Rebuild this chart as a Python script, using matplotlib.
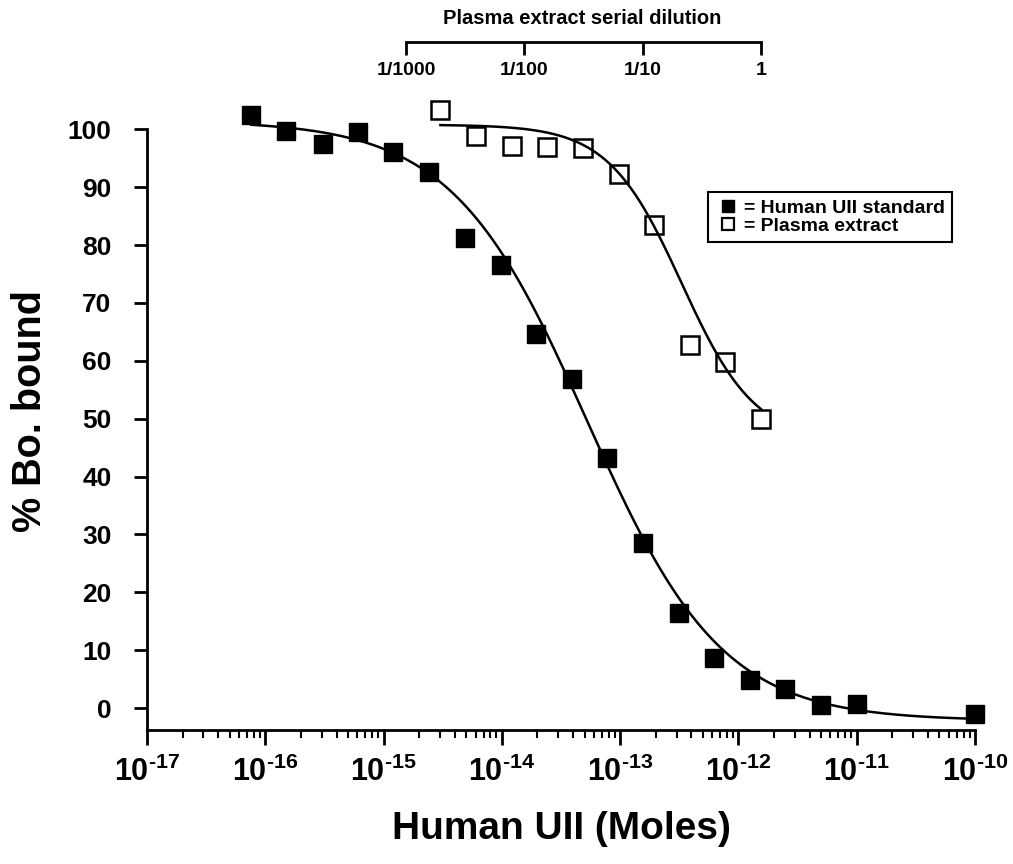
import numpy as np
import matplotlib
matplotlib.use("Agg")
import matplotlib.pyplot as plt
from matplotlib.lines import Line2D
from matplotlib.ticker import FixedLocator, FuncFormatter, NullLocator, LogLocator

plt.rcParams['font.family'] = ['Liberation Sans', 'DejaVu Sans']
plt.rcParams['font.weight'] = 'bold'
plt.rcParams['mathtext.fontset'] = 'custom'
plt.rcParams['mathtext.rm'] = 'Liberation Sans:bold'
plt.rcParams['mathtext.bf'] = 'Liberation Sans:bold'
plt.rcParams['mathtext.it'] = 'Liberation Sans:bold'

# ---------------- data ----------------
std_conc = [7.6e-17, 1.5e-16, 3.1e-16, 6.1e-16, 1.2e-15, 2.4e-15, 4.9e-15,
            9.8e-15, 1.95e-14, 3.9e-14, 7.8e-14, 1.56e-13, 3.13e-13, 6.25e-13,
            1.25e-12, 2.5e-12, 5e-12, 1e-11, 1e-10]
std_bound = [102.4, 99.7, 97.4, 99.5, 96.1, 92.7, 81.2, 76.5, 64.6, 56.8,
             43.2, 28.5, 16.4, 8.6, 4.8, 3.2, 0.6, 0.7, -1.1]

plasma_dilution = [0.00195, 0.0039, 0.0078, 0.0156, 0.03125, 0.0625,
                   0.125, 0.25, 0.5, 1.0]
plasma_bound = [103.3, 98.8, 97.2, 96.9, 96.7, 92.2, 83.5, 62.7, 59.8, 50.0]

# dilution 1 corresponds to this molar amount on the bottom axis
dilution_scale = 1.55e-12

# four-parameter logistic fits (top, bottom, log10 EC50, hill)
std_fit = (101.5, -2.2, -13.28, 0.76)
plasma_fit = (100.8, 46.0, -12.48, 1.4)

dilution_ticks = [1e-3, 1e-2, 1e-1, 1.0]
dilution_labels = ['1/1000', '1/100', '1/10', '1']
y_ticks = list(range(0, 101, 10))


def logistic(x, p):
    top, bottom, logec, h = p
    return bottom + (top - bottom) / (1.0 + 10 ** (h * (np.log10(x) - logec)))


W, H = 1013, 864
fig = plt.figure(figsize=(W / 100, H / 100), dpi=100)
fig.patch.set_facecolor('white')

ax = fig.add_axes([147 / W, 1 - 730 / H, 828 / W, 600.7 / H])
ax.set_xscale('log')
ax.set_xlim(1e-17, 1e-10)
ax.set_ylim(-3.8, 100)

for s in ['top', 'right']:
    ax.spines[s].set_visible(False)
for s in ['left', 'bottom']:
    ax.spines[s].set_linewidth(2.0)

# curves
xs = np.logspace(np.log10(std_conc[0]), -10, 400)
ax.plot(xs, logistic(xs, std_fit), color='black', lw=1.8, zorder=2, clip_on=False)

plasma_conc = np.array(plasma_dilution) * dilution_scale
xp = np.logspace(np.log10(plasma_conc[0]), np.log10(plasma_conc[-1]), 300)
ax.plot(xp, logistic(xp, plasma_fit), color='black', lw=1.8, zorder=2, clip_on=False)

# points
ax.plot(std_conc, std_bound, linestyle='none', marker='s', ms=13.5,
        color='black', zorder=3, clip_on=False)
ax.plot(plasma_conc, plasma_bound, linestyle='none', marker='s', ms=13,
        mfc='none', mec='black', mew=1.8, zorder=3, clip_on=False)

# ticks
ax.xaxis.set_major_locator(FixedLocator([10.0 ** k for k in range(-17, -9)]))
ax.xaxis.set_minor_locator(LogLocator(base=10, subs=np.arange(2, 10), numticks=20))
ax.xaxis.set_major_formatter(FuncFormatter(
    lambda v, pos: r'$\mathbf{10^{\text{%d}}}$' % int(round(np.log10(v)))))
ax.tick_params(axis='x', which='major', direction='out', length=11, width=2,
               pad=8, labelsize=22)
ax.tick_params(axis='x', which='minor', direction='out', length=6, width=1.5)
ax.set_yticks(y_ticks)
ax.tick_params(axis='y', which='major', direction='out', length=9.5, width=2,
               pad=16, labelsize=19)
for lbl in ax.get_yticklabels():
    lbl.set_fontweight('bold')

ax.set_xlabel('Human UII (Moles)', fontsize=28, fontweight='bold', va='center')
ax.xaxis.set_label_coords(0.5, (730 - 829) / 600.7)
ax.set_ylabel('% Bo. bound', fontsize=28.5, fontweight='bold', va='center', ha='center')
ax.yaxis.set_label_coords((30 - 147) / 828, (730 - 411) / 600.7)

# legend
handles = [Line2D([], [], linestyle='none', marker='s', ms=9, color='black'),
           Line2D([], [], linestyle='none', marker='s', ms=8.5, mfc='white',
                  mec='black', mew=1.6)]
leg = ax.legend(handles, ['= Human UII standard', '= Plasma extract'],
                loc='upper left', bbox_to_anchor=((708 - 147) / 828, (730 - 192) / 600.7),
                borderaxespad=0, frameon=True, fancybox=False, framealpha=1,
                edgecolor='black', handlelength=1.3,
                handletextpad=0.15, borderpad=0.38, labelspacing=0.02,
                prop={'weight': 'bold', 'size': 14})
leg.get_frame().set_linewidth(1.5)

# top dilution axis
axt = fig.add_axes([147 / W, 1 - 42 / H, 828 / W, 0.0001])
axt.set_xscale('log')
axt.set_xlim(1e-17 / dilution_scale, 1e-10 / dilution_scale)
axt.patch.set_visible(False)
for s in ['top', 'right', 'left']:
    axt.spines[s].set_visible(False)
axt.spines['bottom'].set_linewidth(2.0)
axt.spines['bottom'].set_bounds(dilution_ticks[0], dilution_ticks[-1])
axt.set_yticks([])
axt.xaxis.set_major_locator(FixedLocator(dilution_ticks))
axt.xaxis.set_minor_locator(NullLocator())
axt.set_xticklabels(dilution_labels)
axt.tick_params(axis='x', which='major', direction='out', length=9.4, width=2,
                pad=5, labelsize=14)
for lbl in axt.get_xticklabels():
    lbl.set_fontweight('bold')

fig.text(582 / W, 1 - 18 / H, 'Plasma extract serial dilution', ha='center',
         va='center', fontsize=14.5, fontweight='bold')

fig.savefig('out.png', dpi=100, facecolor='white')
